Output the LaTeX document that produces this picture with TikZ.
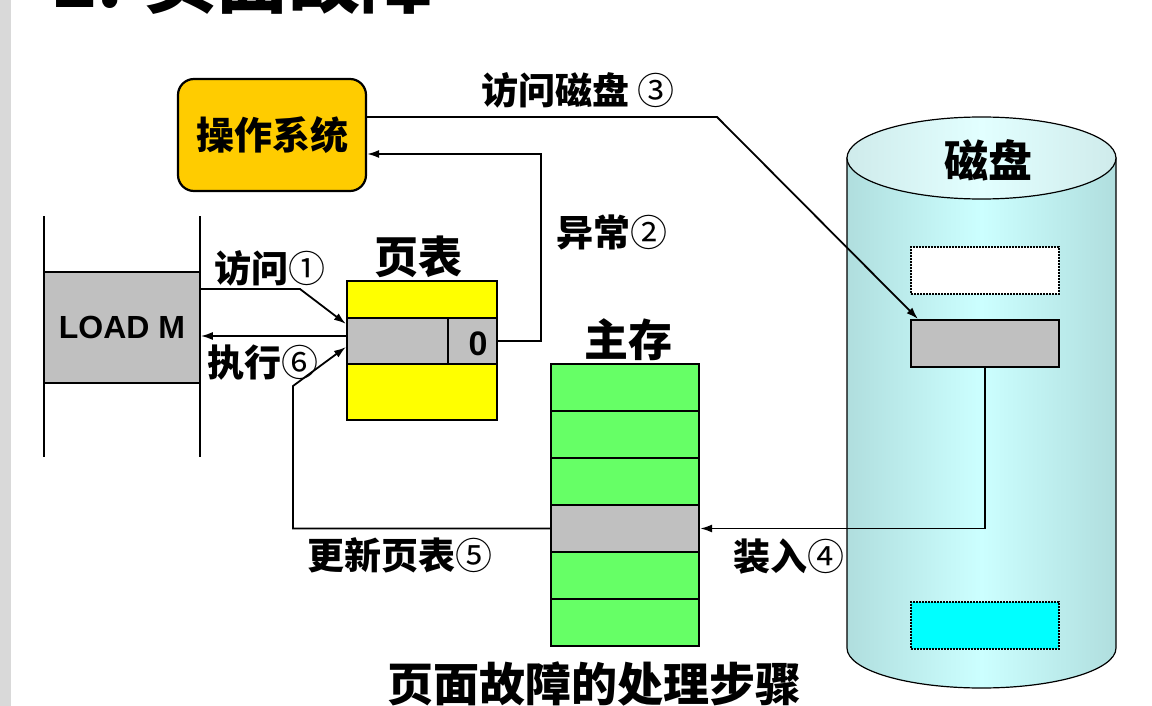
\documentclass[tikz,border=0pt]{standalone}
\usepackage{fontspec}
\setmainfont{Liberation Sans}
\newfontfamily\cjk{Noto Sans CJK SC}
\usetikzlibrary{arrows.meta}

\definecolor{osgold}{HTML}{FFCC00}
\definecolor{ptyellow}{HTML}{FFFF00}
\definecolor{cellgray}{HTML}{C0C0C0}
\definecolor{memgreen}{HTML}{66FF66}
\definecolor{swapcyan}{HTML}{00FFFF}
\definecolor{diskedge}{HTML}{B0DEDE}
\definecolor{diskmid}{HTML}{CCFFFF}
\definecolor{topedge}{HTML}{CFEBEB}
\definecolor{topmid}{HTML}{E2FFFF}
\definecolor{stripgray}{HTML}{D9D9D9}

\newcommand\stepnum[1]{{\mdseries #1}}

\tikzstyle{osbox} = [rectangle, rounded corners=16pt, minimum width=188pt, minimum height=112pt, draw=black, line width=2.2pt, fill=osgold, font=\cjk\bfseries\fontsize{38}{40}\selectfont]
\tikzstyle{cell} = [rectangle, inner sep=0pt, draw=black, line width=2.2pt]
\tikzstyle{diskcell} = [rectangle, inner sep=0pt, minimum width=148pt, minimum height=47pt, line width=2pt]
\tikzstyle{stepnote} = [inner sep=0pt, font=\cjk\bfseries\fontsize{37}{40}\selectfont]
\tikzstyle{bigname} = [inner sep=0pt, font=\cjk\bfseries\fontsize{44}{46}\selectfont]
\tikzstyle{arrow} = [line width=1.8pt, -{Latex[length=12pt,width=8pt]}]

\begin{document}
\begin{tikzpicture}[x=1pt, y=-1pt]
	\useasboundingbox (0,0) rectangle (1152,706);
	\fill[stripgray] (0,0) rectangle (11,706);
	\node[anchor=base west, inner sep=0pt, font=\cjk\bfseries\fontsize{72}{74}\selectfont] (title) at (53,8) {2. 页面故障};
	% Place nodes
	\node [osbox] (os) at (272,135) {操作系统};
	\draw[line width=1.6pt] (44,216) -- (44,457);
	\draw[line width=1.6pt] (200,216) -- (200,457);
	\node [cell, fill=cellgray, minimum width=156pt, minimum height=111pt, line width=1.6pt, font=\bfseries\fontsize{32}{34}\selectfont] (loadm) at (122,327.5) {LOAD M};
	% page table
	\node [cell, fill=ptyellow, minimum width=150pt, minimum height=37pt] (pt1) at (422,299.5) {};
	\node [cell, fill=cellgray, minimum width=101pt, minimum height=46pt] (pt2) at (397.5,341) {};
	\node [cell, fill=cellgray, minimum width=49pt, minimum height=46pt] (ptbit) at (472.5,341) {};
	\node [inner sep=0pt, font=\bfseries\fontsize{34}{36}\selectfont] (bitval) at (478,344) {0};
	\node [cell, fill=ptyellow, minimum width=150pt, minimum height=56pt] (pt3) at (422,392) {};
	\node [bigname] (ptname) at (418,257) {页表};
	% main memory
	\node [cell, fill=memgreen, minimum width=148pt, minimum height=47pt] (mm1) at (625,387.5) {};
	\node [cell, fill=memgreen, minimum width=148pt, minimum height=47pt] (mm2) at (625,434.5) {};
	\node [cell, fill=memgreen, minimum width=148pt, minimum height=47pt] (mm3) at (625,481.5) {};
	\node [cell, fill=cellgray, minimum width=148pt, minimum height=47pt] (mm4) at (625,528.5) {};
	\node [cell, fill=memgreen, minimum width=148pt, minimum height=47pt] (mm5) at (625,575.5) {};
	\node [cell, fill=memgreen, minimum width=148pt, minimum height=47pt] (mm6) at (625,622.5) {};
	\node [bigname] (mmname) at (628,340) {主存};
	% disk
	\shadedraw[left color=diskedge, right color=diskedge, middle color=diskmid, draw=black, line width=1.2pt]
		(847,158) -- (847,648) arc[start angle=180, end angle=0, x radius=134.5, y radius=40] -- (1116,158) -- cycle;
	\shadedraw[left color=topedge, right color=topedge, middle color=topmid, draw=black, line width=1.2pt]
		(981.5,158) ellipse[x radius=134.5, y radius=41];
	\node [bigname] (diskname) at (988,160) {磁盘};
	\node [diskcell, fill=white, draw=black, densely dotted] (dfree) at (985,270) {};
	\node [diskcell, fill=cellgray, draw=black] (dpage) at (985,343.5) {};
	\node [diskcell, fill=swapcyan, draw=black, densely dotted] (dswap) at (985,625) {};
	% labels
	\node [stepnote] (l1) at (270,268) {访问\stepnum{①}};
	\node [stepnote] (l2) at (612,232) {异常\stepnum{②}};
	\node [stepnote] (l3) at (578,90) {访问磁盘 \stepnum{③}};
	\node [stepnote] (l4) at (789,557) {装入\stepnum{④}};
	\node [stepnote] (l5) at (400,555) {更新页表\stepnum{⑤}};
	\node [stepnote] (l6) at (263,363) {执行\stepnum{⑥}};
	\node [bigname, font=\cjk\bfseries\fontsize{46}{48}\selectfont] (caption) at (594,684) {页面故障的处理步骤};
	% bend points
	\coordinate (c1) at (300,289);
	\coordinate (c2) at (541,154);
	\coordinate (c3) at (717,117);
	\coordinate (c5) at (293,386);
	\coordinate (c6) at (347,336);
	% Draw edges
	\draw [arrow] (loadm.east |- c1) -- (c1) -- ([yshift=-7pt]pt2.north west);
	\draw [arrow] (ptbit.east) -| (c2) -- (os.east |- c2);
	\draw [arrow] (os.east |- c3) -- (c3) -- ([xshift=8pt]dpage.north west);
	\draw [arrow] (dpage.south) |- (mm4.east);
	\draw [arrow] (mm4.west) -| (c5) -- ([yshift=-6pt]pt2.west);
	\draw [arrow] (c6) -- (loadm.east |- c6);
\end{tikzpicture}
\end{document}
